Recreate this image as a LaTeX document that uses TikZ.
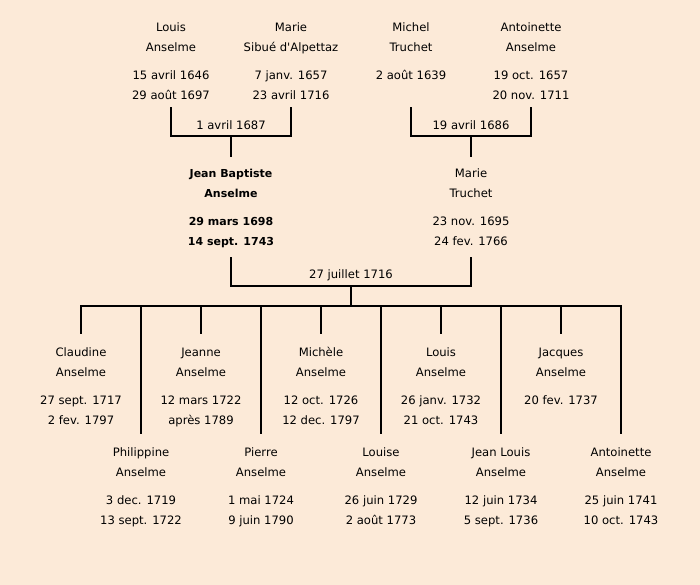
\documentclass[tikz,border=0pt]{standalone}
\usepackage{fontspec}
\setmainfont{DejaVu Sans}[Ligatures=TeXOff]
\definecolor{bg}{RGB}{252,234,216}
\tikzset{
  person/.style={anchor=north, inner sep=0pt, align=center, font=\fontsize{11.6}{20}\selectfont},
  boldperson/.style={person, font=\fontsize{11}{20}\selectfont\bfseries},
  wedding/.style={inner sep=0pt, font=\fontsize{11.6}{14}\selectfont},
  link/.style={line width=2.7pt, line join=miter, line cap=rect}
}
\begin{document}
\begin{tikzpicture}[x=1pt,y=-1pt]
\fill[bg] (0,0) rectangle (700,585);
\useasboundingbox (0,0) rectangle (700,585);
% grandparents
\node[person] (LA) at (171,22.5) {Louis\\Anselme\\[8pt]15 avril 1646\\29 août 1697};
\node[person] (MS) at (291,22.5) {Marie\\Sibué d'Alpettaz\\[8pt]7 janv. 1657\\23 avril 1716};
\node[person] (MT) at (411,22.5) {Michel\\Truchet\\[8pt]2 août 1639};
\node[person] (AA) at (531,22.5) {Antoinette\\Anselme\\[8pt]19 oct. 1657\\20 nov. 1711};
\node[wedding] (m1) at (231,125) {1 avril 1687};
\node[wedding] (m2) at (471,125) {19 avril 1686};
% parents
\node[boldperson] (JB) at (231,168.5) {Jean Baptiste\\Anselme\\[8pt]29 mars 1698\\14 sept. 1743};
\node[person] (MaT) at (471,168.5) {Marie\\Truchet\\[8pt]23 nov. 1695\\24 fev. 1766};
\node[wedding] (m3) at (351,275) {27 juillet 1716};
% children row 1
\node[person] (c1) at (81,347.5) {Claudine\\Anselme\\[8pt]27 sept. 1717\\2 fev. 1797};
\node[person] (c3) at (201,347.5) {Jeanne\\Anselme\\[8pt]12 mars 1722\\après 1789};
\node[person] (c5) at (321,347.5) {Michèle\\Anselme\\[8pt]12 oct. 1726\\12 dec. 1797};
\node[person] (c7) at (441,347.5) {Louis\\Anselme\\[8pt]26 janv. 1732\\21 oct. 1743};
\node[person] (c9) at (561,347.5) {Jacques\\Anselme\\[8pt]20 fev. 1737};
% children row 2
\node[person] (c2) at (141,447.5) {Philippine\\Anselme\\[8pt]3 dec. 1719\\13 sept. 1722};
\node[person] (c4) at (261,447.5) {Pierre\\Anselme\\[8pt]1 mai 1724\\9 juin 1790};
\node[person] (c6) at (381,447.5) {Louise\\Anselme\\[8pt]26 juin 1729\\2 août 1773};
\node[person] (c8) at (501,447.5) {Jean Louis\\Anselme\\[8pt]12 juin 1734\\5 sept. 1736};
\node[person] (c10) at (621,447.5) {Antoinette\\Anselme\\[8pt]25 juin 1741\\10 oct. 1743};
% connector coordinates
\coordinate (LAb) at (171,108);
\coordinate (MSb) at (291,108);
\coordinate (MTb) at (411,108);
\coordinate (AAb) at (531,108);
\coordinate (j1) at (231,136);
\coordinate (j2) at (471,136);
\coordinate (JBt) at (231,156);
\coordinate (MaTt) at (471,156);
\coordinate (JBb) at (231,258);
\coordinate (MaTb) at (471,258);
\coordinate (j3) at (351,286);
\coordinate (bar) at (351,306);
\coordinate (barL) at (81,306);
\coordinate (barR) at (621,306);
\draw[link] (LAb) |- (j1) -| (MSb);
\draw[link] (j1) -- (JBt);
\draw[link] (MTb) |- (j2) -| (AAb);
\draw[link] (j2) -- (MaTt);
\draw[link] (JBb) |- (j3) -| (MaTb);
\draw[link] (j3) -- (bar);
\draw[link] (barL) -- (barR);
\foreach \c/\x in {c1/81,c3/201,c5/321,c7/441,c9/561}{
  \coordinate (\c t) at (\x,306);
  \draw[link] (\c t) -- ++(0,27);
}
\foreach \c/\x in {c2/141,c4/261,c6/381,c8/501,c10/621}{
  \coordinate (\c t) at (\x,306);
  \draw[link] (\c t) -- ++(0,127);
}
\end{tikzpicture}
\end{document}
